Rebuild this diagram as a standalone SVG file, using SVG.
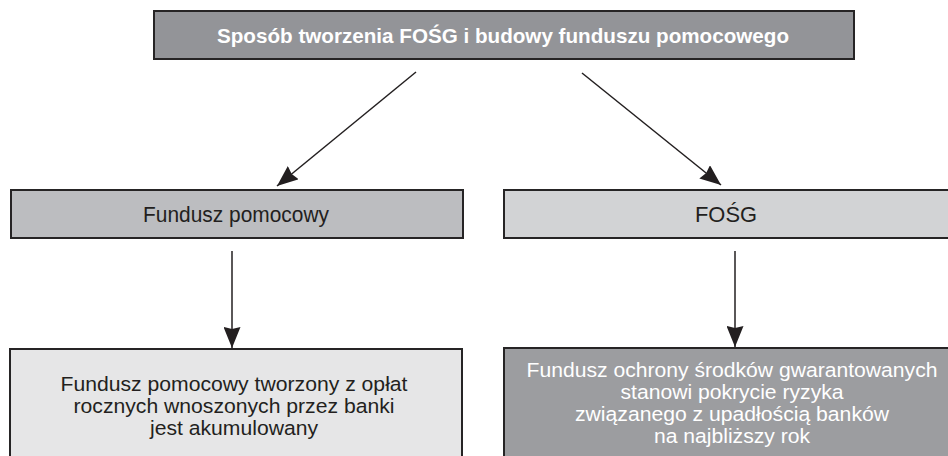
<svg xmlns="http://www.w3.org/2000/svg" width="948" height="456" viewBox="0 0 948 456">
  <style>
    .box { stroke: #262425; stroke-width: 2; }
    .t { font-family: "Liberation Sans", Arial, sans-serif; text-anchor: middle; }
    .title { font-weight: bold; font-size: 21px; fill: #ffffff; }
    .mid { font-size: 22px; fill: #231f20; }
    .body { font-size: 20.5px; }
    .dark { fill: #231f20; }
    .light { fill: #ffffff; }
    .link { stroke: #231f20; stroke-width: 1.5; fill: none; marker-end: url(#head); }
  </style>
  <defs>
    <marker id="head" viewBox="0 0 21 17" refX="21" refY="8.5" markerWidth="21" markerHeight="17" markerUnits="userSpaceOnUse" orient="auto">
      <path d="M0,0 L21,8.5 L0,17 L2,8.5 Z" fill="#231f20"/>
    </marker>
  </defs>
  <rect width="948" height="456" fill="#ffffff"/>

  <g id="connectors">
    <line class="link" x1="416" y1="72" x2="277" y2="186"/>
    <line class="link" x1="582" y1="73" x2="721" y2="185"/>
    <line class="link" x1="232" y1="251" x2="232" y2="348"/>
    <line class="link" x1="735" y1="251" x2="735" y2="347"/>
  </g>

  <g id="root">
    <rect class="box" x="154" y="11" width="700" height="48" fill="#939498"/>
    <text class="t title" x="503" y="42.5" textLength="572" lengthAdjust="spacingAndGlyphs">Sposób tworzenia FOŚG i budowy funduszu pomocowego</text>
  </g>

  <g id="fundusz-pomocowy">
    <rect class="box" x="11" y="190" width="452" height="48" fill="#bcbdc0"/>
    <text class="t mid" x="236" y="222" textLength="186" lengthAdjust="spacingAndGlyphs">Fundusz pomocowy</text>
  </g>

  <g id="fosg">
    <rect class="box" x="504" y="190" width="460" height="48" fill="#d2d3d5"/>
    <text class="t mid" x="726" y="222" textLength="62" lengthAdjust="spacingAndGlyphs">FOŚG</text>
  </g>

  <g id="fundusz-pomocowy-opis">
    <rect class="box" x="10" y="349" width="452" height="120" fill="#e6e6e7"/>
    <text class="t body dark" x="234" y="391" textLength="347" lengthAdjust="spacingAndGlyphs">Fundusz pomocowy tworzony z opłat</text>
    <text class="t body dark" x="234" y="413" textLength="321" lengthAdjust="spacingAndGlyphs">rocznych wnoszonych przez banki</text>
    <text class="t body dark" x="234" y="435" textLength="168" lengthAdjust="spacingAndGlyphs">jest akumulowany</text>
  </g>

  <g id="fosg-opis">
    <rect class="box" x="504" y="348" width="460" height="120" fill="#9c9da0"/>
    <text class="t body light" x="732" y="377" textLength="411" lengthAdjust="spacingAndGlyphs">Fundusz ochrony środków gwarantowanych</text>
    <text class="t body light" x="732" y="399" textLength="223" lengthAdjust="spacingAndGlyphs">stanowi pokrycie ryzyka</text>
    <text class="t body light" x="732" y="421" textLength="314" lengthAdjust="spacingAndGlyphs">związanego z upadłością banków</text>
    <text class="t body light" x="732" y="443" textLength="156" lengthAdjust="spacingAndGlyphs">na najbliższy rok</text>
  </g>
</svg>
